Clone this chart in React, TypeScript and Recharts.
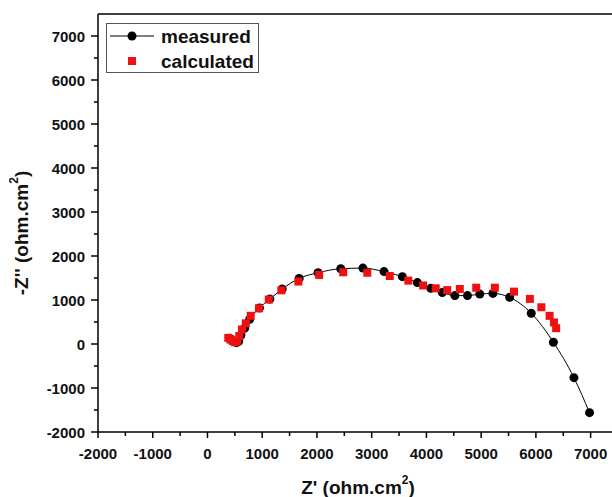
import * as React from 'react';
import {
  ScatterChart,
  Scatter,
  XAxis,
  YAxis,
  ReferenceLine,
} from 'recharts';

// Z' (x) and -Z'' (y) in ohm.cm2
const measuredX = [430, 480, 530, 570, 610, 680, 770, 950, 1140, 1365, 1675, 2020, 2435, 2840, 3226, 3560, 3835, 4080, 4290, 4520, 4750, 4975, 5215, 5520, 5915, 6320, 6695, 6980];
const measuredY = [110, 60, 30, 60, 200, 360, 560, 820, 1020, 1250, 1490, 1620, 1710, 1725, 1645, 1530, 1395, 1265, 1170, 1100, 1100, 1135, 1150, 1060, 700, 40, -765, -1560];

const calculatedX = [380, 420, 460, 500, 540, 580, 630, 700, 790, 940, 1120, 1350, 1660, 2040, 2480, 2920, 3330, 3670, 3940, 4170, 4380, 4610, 4910, 5250, 5600, 5890, 6100, 6250, 6330, 6370];
const calculatedY = [140, 100, 70, 40, 60, 180, 330, 470, 640, 810, 1010, 1220, 1420, 1570, 1630, 1620, 1545, 1440, 1330, 1265, 1225, 1250, 1280, 1280, 1190, 1025, 835, 640, 490, 360];

const xTicks = [-2000, -1500, -1000, -500, 0, 500, 1000, 1500, 2000, 2500, 3000, 3500, 4000, 4500, 5000, 5500, 6000, 6500, 7000];
const yTicks = [-2000, -1500, -1000, -500, 0, 500, 1000, 1500, 2000, 2500, 3000, 3500, 4000, 4500, 5000, 5500, 6000, 6500, 7000];

const measured = measuredX.map((x, i) => ({ x, y: measuredY[i] }));
const calculated = calculatedX.map((x, i) => ({ x, y: calculatedY[i] }));

const FONT = '"Liberation Sans", Arial, sans-serif';

function XTick(props: any) {
  const { x, y, payload } = props;
  const major = payload.value % 1000 === 0;
  return (
    <g>
      <line x1={x} y1={y} x2={x} y2={y + (major ? 6 : 4)} stroke="#000" strokeWidth={1.5} />
      {major && (
        <text x={x} y={y + 21} textAnchor="middle" dominantBaseline="central" fontSize={15} fontWeight="bold" fill="#111" fontFamily={FONT}>
          {payload.value}
        </text>
      )}
    </g>
  );
}

function YTick(props: any) {
  const { x, y, payload } = props;
  const major = payload.value % 1000 === 0;
  return (
    <g>
      <line x1={x} y1={y} x2={x - (major ? 7 : 4)} y2={y} stroke="#000" strokeWidth={1.5} />
      {major && (
        <text x={x - 13} y={y} textAnchor="end" dominantBaseline="central" fontSize={15} fontWeight="bold" fill="#111" fontFamily={FONT}>
          {payload.value}
        </text>
      )}
    </g>
  );
}

function Square(props: any) {
  const { cx, cy } = props;
  return <rect x={cx - 4} y={cy - 4} width={8} height={8} fill="#ee1111" />;
}

function Dot(props: any) {
  const { cx, cy } = props;
  return <circle cx={cx} cy={cy} r={4.5} fill="#000" />;
}

export default function App() {
  return (
    <div style={{ position: 'absolute', left: 0, top: 0, width: 612, height: 497, overflow: 'hidden', background: '#fff' }}>
      <ScatterChart width={625} height={497} margin={{ top: 14, right: 7, bottom: 0, left: 0 }}>
        <XAxis
          type="number"
          dataKey="x"
          domain={[-2000, 7500]}
          ticks={xTicks}
          interval={0}
          tick={<XTick />}
          tickSize={0}
          tickMargin={0}
          tickLine={false}
          height={65}
          axisLine={{ stroke: '#000', strokeWidth: 1.5 }}
          allowDataOverflow
        />
        <YAxis
          type="number"
          dataKey="y"
          domain={[-2000, 7500]}
          ticks={yTicks}
          interval={0}
          tick={<YTick />}
          tickSize={0}
          tickMargin={0}
          tickLine={false}
          width={98}
          axisLine={{ stroke: '#000', strokeWidth: 1.5 }}
          allowDataOverflow
        />
        <ReferenceLine y={7500} stroke="#000" strokeWidth={1.5} />
        <ReferenceLine x={7500} stroke="#000" strokeWidth={1.5} />
        <Scatter
          name="measured"
          data={measured}
          line={{ stroke: '#000', strokeWidth: 1 }}
          lineJointType="monotoneX"
          shape={<Dot />}
          isAnimationActive={false}
        />
        <Scatter
          name="calculated"
          data={calculated}
          shape={<Square />}
          isAnimationActive={false}
        />
      </ScatterChart>
      <svg width={612} height={497} style={{ position: 'absolute', left: 0, top: 0, pointerEvents: 'none' }}>
        <g fontFamily={FONT} fontWeight="bold" fill="#111">
          <text x={358} y={487} textAnchor="middle" dominantBaseline="central" fontSize={19}>
            Z' (ohm.cm<tspan dy={-7} fontSize={12}>2</tspan><tspan dy={7}>)</tspan>
          </text>
          <text x={21} y={233} transform="rotate(-90, 21, 233)" textAnchor="middle" dominantBaseline="central" fontSize={19}>
            -Z'' (ohm.cm<tspan dy={-7} fontSize={12}>2</tspan><tspan dy={7}>)</tspan>
          </text>
        </g>
        <rect x={106.5} y={23.5} width={152} height={49} fill="#fff" stroke="#555" strokeWidth={1} />
        <line x1={110} y1={36} x2={154} y2={36} stroke="#000" strokeWidth={1} />
        <circle cx={132} cy={36} r={4.5} fill="#000" />
        <rect x={128} y={57} width={8} height={8} fill="#ee1111" />
        <g fontFamily={FONT} fontWeight="bold" fill="#111" fontSize={19}>
          <text x={161} y={36} dominantBaseline="central">measured</text>
          <text x={161} y={61} dominantBaseline="central">calculated</text>
        </g>
      </svg>
    </div>
  );
}
